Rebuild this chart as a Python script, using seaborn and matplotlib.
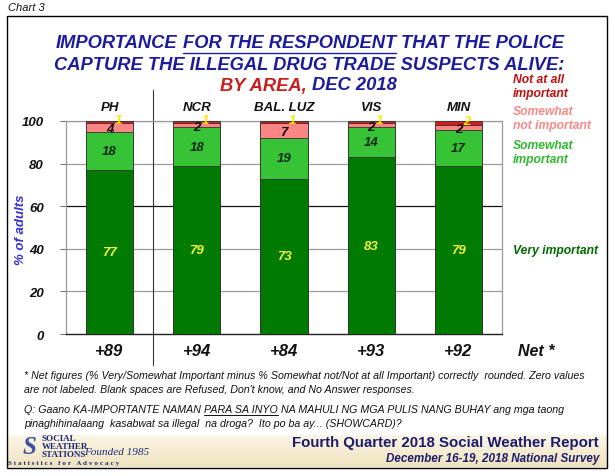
import numpy as np
import pandas as pd
import matplotlib
matplotlib.use("Agg")
import matplotlib.pyplot as plt
import seaborn as sns
from matplotlib.patches import Rectangle
from matplotlib.lines import Line2D
from matplotlib.colors import LinearSegmentedColormap

# ---------------- data ----------------
areas = ["PH", "NCR", "BAL. LUZ", "VIS", "MIN"]
very_important = [77, 79, 73, 83, 79]
somewhat_important = [18, 18, 19, 14, 17]
somewhat_not = [4, 2, 7, 2, 2]
not_at_all = [1, 1, 1, 1, 2]
net_labels = ["+89", "+94", "+84", "+93", "+92"]
yticks = [0, 20, 40, 60, 80, 100]

sns.set_theme(style="white")
plt.rcParams['font.family'] = ['Liberation Sans', 'DejaVu Sans']

W, H = 615, 477
fig = plt.figure(figsize=(W / 100, H / 100), dpi=100)
fig.patch.set_facecolor("white")

def fx(px):
    return px / W

def fy(py):
    return 1 - py / H

ax = fig.add_axes([fx(66), fy(335), fx(502) - fx(66), fy(122) - fy(335)])

df = pd.DataFrame({
    "area": areas,
    "v": very_important,
    "s": somewhat_important,
    "sn": somewhat_not,
    "na": not_at_all,
})
df["c1"] = df["v"]
df["c2"] = df["c1"] + df["s"]
df["c3"] = df["c2"] + df["sn"]
df["c4"] = df["c3"] + df["na"]

col_na = "#D41A1A"
col_sn = "#F98585"
col_s = "#36C436"
col_v = "#007A00"

bar_w = 0.54
for col, color in [("c4", col_na), ("c3", col_sn), ("c2", col_s), ("c1", col_v)]:
    sns.barplot(data=df, x="area", y=col, color=color, width=bar_w, ax=ax,
                edgecolor="#333333", linewidth=0.6, saturation=1, zorder=3)

ax.set_ylim(0, 100)
ax.set_xlim(-0.5, 4.5)
ax.set_yticks(yticks)
ax.set_yticklabels([str(t) for t in yticks], fontsize=9.5, fontweight="bold",
                   fontstyle="italic", color="#111111")
ax.tick_params(axis="y", which="both", left=True, length=4, width=0.8,
               color="#777777", pad=12)
ax.set_xticks([])
ax.set_xlabel("")
ax.set_ylabel("")
fig.text(fx(21), fy(230), "% of adults", rotation=90, ha="center", va="center",
         fontsize=9.5, fontweight="bold", fontstyle="italic", color="#3333CC")

for t in yticks[1:]:
    ax.axhline(t, color="#111111" if t == 60 else "#9A9A9A", lw=0.9, zorder=1)
for sp in ["left", "right", "top"]:
    ax.spines[sp].set_color("#9A9A9A")
    ax.spines[sp].set_linewidth(0.9)
ax.spines["bottom"].set_color("#222222")
ax.spines["bottom"].set_linewidth(1.0)

# value labels
lab_kw = dict(ha="center", va="center", fontsize=9.5, fontweight="bold",
              fontstyle="italic", zorder=5)
for i in range(len(areas)):
    v, s, sn, na = very_important[i], somewhat_important[i], somewhat_not[i], not_at_all[i]
    ax.text(i, v / 2, str(v), color="#F5F53A", **lab_kw)
    ax.text(i, v + s / 2, str(s), color="#142814", **lab_kw)
    ax.text(i, v + s + sn / 2 - 0.6, str(sn), color="#111111", **lab_kw)
    ax.text(i + 0.1, v + s + sn + na / 2 + 0.8, str(na), color="#FFE600", **lab_kw)

# category labels on top and net row below
xt = ax.get_xaxis_transform()
for i, a in enumerate(areas):
    ax.text(i, (335 - 108) / 213, a, transform=xt, ha="center", va="center",
            fontsize=9.5, fontweight="bold", fontstyle="italic", color="#111111")
    ax.text(i, (335 - 352) / 213, net_labels[i], transform=xt, ha="center",
            va="center", fontsize=12, fontweight="bold", fontstyle="italic",
            color="#111111")

# separator
ax.plot([0.5, 0.5], [(335 - 91) / 213, (335 - 366) / 213], transform=xt,
        color="#333333", lw=0.8, clip_on=False, zorder=2)

fig.text(fx(536), fy(352), "Net *", ha="center", va="center", fontsize=11.5,
         fontweight="bold", fontstyle="italic", color="#111111")

# legend-like labels
leg_kw = dict(ha="left", va="center", fontsize=8.7, fontweight="bold",
              fontstyle="italic", linespacing=1.15)
fig.text(fx(513), fy(87), "Not at all\nimportant", color="#C01010", **leg_kw)
fig.text(fx(513), fy(119), "Somewhat\nnot important", color="#F48A8A", **leg_kw)
fig.text(fx(513), fy(153), "Somewhat\nimportant", color="#2EB82E", **leg_kw)
fig.text(fx(513), fy(251), "Very important", color="#006A00", **leg_kw)

# frame
fig.patches.append(Rectangle((fx(7), fy(469)), fx(607) - fx(7), fy(17) - fy(469),
                             transform=fig.transFigure, fill=False, ec="black",
                             lw=1.0, zorder=10))
# bottom band
band = fig.add_axes([fx(7.5), fy(468.5), fx(606.5) - fx(7.5), fy(436) - fy(468.5)])
grad = np.linspace(0, 1, 50).reshape(-1, 1)
cmap = LinearSegmentedColormap.from_list("b", ["#FBF6E8", "#EFE2BE"])
band.imshow(grad, aspect="auto", cmap=cmap, extent=[0, 1, 0, 1])
band.set_axis_off()

fig.text(fx(8), fy(8), "Chart 3", ha="left", va="center", fontsize=8,
         fontstyle="italic", color="#111111")

# title with segments
renderer = fig.canvas.get_renderer()

def text_width(s, **kw):
    t = fig.text(0, 0, s, **kw)
    w = t.get_window_extent(renderer).width
    t.remove()
    return w

def draw_line(ycenter, segs, xcenter, **kw):
    sp = text_width("x x", **kw) - text_width("xx", **kw)
    widths = [text_width(s, **kw) for s, c, u in segs]
    total = sum(widths) + sp * (len(segs) - 1)
    x = xcenter - total / 2
    for (s, c, u), w in zip(segs, widths):
        t = fig.text(fx(x), fy(ycenter), s, ha="left", va="center", color=c, **kw)
        if u:
            bb = t.get_window_extent(renderer)
            yb = bb.y0 - 1
            fig.add_artist(Line2D([bb.x0 / W, bb.x1 / W], [yb / H, yb / H],
                                  transform=fig.transFigure, color=c, lw=1.0))
        x += w + sp

navy = "#1C1C9C"
red = "#C81E1E"
tkw = dict(fontsize=13.2, fontweight="bold", fontstyle="italic")
draw_line(44, [("IMPORTANCE", navy, False), ("FOR THE RESPONDENT", navy, True),
               ("THAT THE POLICE", navy, False)], 310, **tkw)
draw_line(65, [("CAPTURE THE ILLEGAL DRUG TRADE SUSPECTS ALIVE:", navy, False)], 309, **tkw)
draw_line(86, [("BY AREA,", red, False), ("DEC 2018", navy, False)], 308, **tkw)

# footnotes
fkw = dict(fontsize=7.7, fontstyle="italic")
fig.text(fx(24), fy(376), "* Net figures (% Very/Somewhat Important minus % Somewhat not/Not at all Important) correctly  rounded. Zero values",
         ha="left", va="center", color="#111111", **fkw)
fig.text(fx(24), fy(390), "are not labeled. Blank spaces are Refused, Don't know, and No Answer responses.",
         ha="left", va="center", color="#111111", **fkw)

def draw_left(xleft, ycenter, segs, **kw):
    sp = text_width("x x", **kw) - text_width("xx", **kw)
    x = xleft
    for s, c, u in segs:
        t = fig.text(fx(x), fy(ycenter), s, ha="left", va="center", color=c, **kw)
        bb = t.get_window_extent(renderer)
        if u:
            yb = bb.y0 - 0.5
            fig.add_artist(Line2D([bb.x0 / W, bb.x1 / W], [yb / H, yb / H],
                                  transform=fig.transFigure, color=c, lw=0.7))
        x += bb.width + sp

draw_left(24, 410, [("Q: Gaano KA-IMPORTANTE NAMAN", "#111111", False),
                    ("PARA SA INYO", "#111111", True),
                    ("NA MAHULI NG MGA PULIS NANG BUHAY ang mga taong", "#111111", False)], **fkw)
fig.text(fx(24), fy(424), "pinaghihinalaang  kasabwat sa illegal  na droga?  Ito po ba ay... (SHOWCARD)?",
         ha="left", va="center", color="#111111", **fkw)

# footer logo
fig.text(fx(29), fy(448), "S", ha="center", va="center", fontsize=18,
         fontweight="bold", fontstyle="italic", family="Liberation Serif", color="#3A4FA8")
lkw = dict(ha="left", va="center", fontsize=6.5, fontweight="bold",
           family="Liberation Serif", color="#1C2A7A")
fig.text(fx(42), fy(439), "SOCIAL", **lkw)
fig.text(fx(42), fy(447), "WEATHER", **lkw)
fig.text(fx(42), fy(455), "STATIONS", **lkw)
fig.text(fx(84), fy(453), "Founded 1985", ha="left", va="center", fontsize=8,
         fontstyle="italic", family="Liberation Serif", color="#1C2A7A")
fig.text(fx(8), fy(464), "S t a t i s t i c s   f o r   A d v o c a c y", ha="left",
         va="center", fontsize=5.2, fontweight="bold", family="Liberation Serif",
         color="#1C2A7A")

fig.text(fx(599), fy(443), "Fourth Quarter 2018 Social Weather Report", ha="right",
         va="center", fontsize=10.8, fontweight="bold", color="#1C1C6C")
fig.text(fx(599), fy(459), "December 16-19, 2018 National Survey", ha="right",
         va="center", fontsize=8.4, fontweight="bold", fontstyle="italic", color="#1C1C6C")

fig.savefig("out.png", dpi=100)
